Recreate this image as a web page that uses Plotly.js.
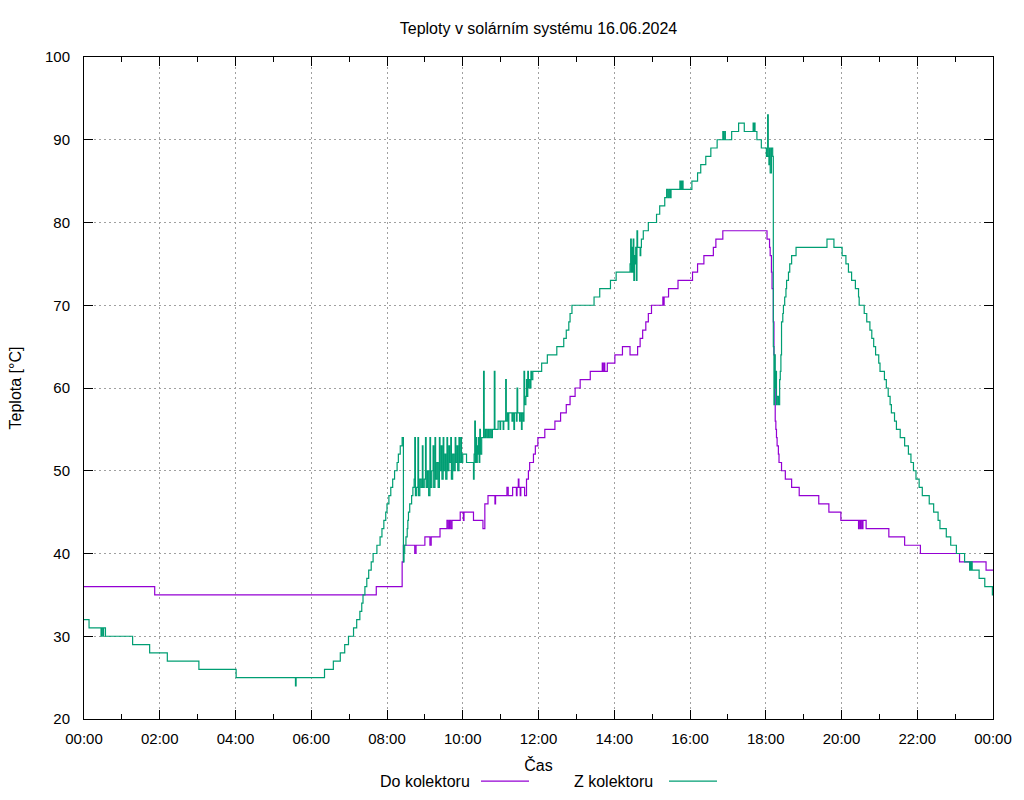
<!DOCTYPE html>
<html lang="cs">
<head>
    <meta charset="UTF-8">
    <title>Teploty v solárním systému 16.06.2024</title>
    <script src="https://cdn.plot.ly/plotly-3.0.1.min.js"></script>
    <style>
        body { margin: 0; padding: 0; background: #fff; }
        #graf { width: 1024px; height: 800px; }
    </style>
</head>
<body>
    <div id="graf"></div>
    <script>
        // Den měření
        const den = '2024-06-16';
        const dalsiDen = '2024-06-17';

        // Do kolektoru (časy změn, hodnoty °C)
        const doCasy = ['00:00','01:52','07:43','08:24','08:26','08:44','08:46','09:00','09:08','09:10',
            '09:24','09:35','09:37','09:39','09:41','09:43','09:56','10:01','10:02','10:17',
            '10:32','10:35','10:40','10:51','10:52','11:10','11:12','11:19','11:25','11:26',
            '11:28','11:29','11:31','11:32','11:38','11:41','11:44','11:46','11:52','11:55',
            '11:59','12:10','12:26','12:35','12:44','12:50','12:58','13:06','13:22','13:41',
            '13:42','13:44','13:45','13:49','14:01','14:13','14:25','14:37','14:41','14:45',
            '14:50','14:54','14:59','15:17','15:18','15:19','15:26','15:41','16:04','16:12',
            '16:22','16:37','16:41','16:52','18:02','18:06','18:07','18:09','18:10','18:12',
            '18:13','18:14','18:15','18:16','18:17','18:18','18:20','18:21','18:25','18:31',
            '18:41','18:53','19:24','19:40','19:59','20:27','20:28','20:30','20:31','20:33',
            '20:34','20:39','21:15','21:40','22:05','23:07','23:49','24:00'];
        const doTeploty = [36,35,36,39,41,40,41,42,41,42,
            43,44,43,44,43,44,45,44,45,44,
            43,46,47,46,47,48,47,48,47,48,
            49,48,47,48,47,49,50,51,52,53,
            54,55,56,57,58,59,60,61,62,63,
            62,63,62,63,64,65,64,65,66,67,
            68,69,70,71,70,71,72,73,74,75,
            76,77,78,79,78,77,76,74,72,68,
            64,61,56,55,54,53,52,51,50,49,
            48,47,46,45,44,43,44,43,44,43,
            44,43,42,41,40,39,38,38];

        // Z kolektoru
        const zCasy = ['00:00','00:08','00:27','00:28','00:30','00:31','00:34','01:17','01:44','02:12',
            '03:02','04:01','05:35','05:36','06:21','06:35','06:46','06:53','06:59','07:07',
            '07:12','07:17','07:20','07:22','07:25','07:28','07:31','07:35','07:38','07:44',
            '07:49','07:52','07:55','07:58','08:00','08:03','08:06','08:09','08:12','08:16',
            '08:18','08:21','08:24','08:26','08:27','08:28','08:30','08:32','08:33','08:34',
            '08:36','08:39','08:41','08:43','08:44','08:45','08:47','08:49','08:50','08:52',
            '08:54','08:56','08:57','08:59','09:01','09:02','09:04','09:06','09:08','09:09',
            '09:11','09:13','09:14','09:16','09:17','09:19','09:21','09:23','09:24','09:26',
            '09:27','09:29','09:30','09:32','09:33','09:35','09:36','09:38','09:39','09:41',
            '09:42','09:44','09:46','09:48','09:49','09:51','09:52','09:54','09:55','09:57',
            '09:58','10:00','10:06','10:17','10:18','10:19','10:20','10:21','10:22','10:23',
            '10:24','10:25','10:26','10:27','10:28','10:30','10:33','10:34','10:36','10:38',
            '10:40','10:41','10:43','10:45','10:47','10:50','10:51','10:56','10:59','11:00',
            '11:04','11:05','11:08','11:09','11:11','11:12','11:13','11:18','11:19','11:21',
            '11:22','11:25','11:26','11:27','11:30','11:31','11:33','11:34','11:36','11:37',
            '11:38','11:40','11:41','11:42','11:43','11:44','11:45','11:47','11:48','11:49',
            '11:51','12:05','12:14','12:29','12:40','12:44','12:48','12:50','12:53','13:28',
            '13:37','13:54','14:03','14:25','14:26','14:27','14:28','14:29','14:30','14:31',
            '14:32','14:33','14:34','14:35','14:36','14:37','14:41','14:42','14:43','14:46',
            '14:54','15:07','15:12','15:20','15:23','15:25','15:27','15:29','15:30','15:44',
            '15:45','15:46','15:47','15:48','15:49','16:03','16:12','16:17','16:25','16:33',
            '16:43','16:52','16:53','16:55','16:56','17:06','17:17','17:26','17:40','17:41',
            '17:42','17:43','17:46','17:53','18:01','18:03','18:04','18:05','18:06','18:07',
            '18:09','18:11','18:12','18:13','18:14','18:15','18:16','18:17','18:18','18:20',
            '18:22','18:23','18:24','18:25','18:27','18:28','18:30','18:32','18:33','18:36',
            '18:38','18:41','18:48','19:37','19:48','20:01','20:07','20:11','20:16','20:22',
            '20:27','20:28','20:36','20:40','20:45','20:48','20:51','20:54','20:59','21:01',
            '21:08','21:11','21:14','21:17','21:19','21:24','21:27','21:33','21:40','21:46',
            '21:50','21:54','21:58','22:03','22:08','22:19','22:26','22:33','22:36','22:46',
            '22:53','23:02','23:15','23:23','23:24','23:25','23:26','23:27','23:38','23:47',
            '23:59','24:00'];
        const zTeploty = [32,31,30,31,30,31,30,29,28,27,
            26,25,24,25,26,27,28,29,30,31,
            32,33,34,35,36,37,38,39,40,41,
            42,43,44,45,46,47,48,49,50,51,
            52,53,54,39,40,41,42,43,44,45,
            46,47,48,49,54,47,48,54,47,49,
            48,53,48,49,54,48,50,47,54,48,
            50,53,48,54,49,51,48,54,50,53,
            49,54,50,52,49,54,50,53,51,54,
            49,52,50,54,51,53,50,54,51,54,
            51,52,51,49,52,56,51,54,51,53,
            52,54,51,55,52,54,62,54,55,54,
            55,54,55,54,55,62,55,56,55,56,
            55,56,61,56,57,55,57,56,57,55,
            57,56,60,57,56,57,55,57,56,62,
            58,59,61,59,62,60,61,60,62,61,
            62,63,64,65,66,67,68,69,70,71,
            72,73,74,75,78,74,77,74,78,73,
            76,75,77,73,79,77,76,77,78,79,
            80,81,82,83,84,83,84,83,84,85,
            84,85,84,85,84,85,86,87,88,89,
            90,91,90,91,90,91,92,91,92,91,
            92,91,90,89,88,93,88,87,89,86,
            89,88,65,58,64,60,62,58,59,58,
            61,62,64,68,69,70,71,72,73,74,
            75,76,77,78,77,76,75,74,73,72,
            71,70,69,68,67,66,65,64,63,62,
            61,60,59,58,57,56,55,54,53,52,
            51,50,49,48,47,46,45,44,43,42,
            41,40,39,38,39,38,39,38,37,36,
            35,35];

        // "HH:MM" -> datum pro osu x (24:00 = půlnoc dalšího dne)
        function naDatum(hm) {
            const [h, m] = hm.split(':').map(Number);
            const min = h * 60 + m;
            const d = min >= 1440 ? dalsiDen : den;
            const zbytek = min % 1440;
            const pad = n => String(n).padStart(2, '0');
            return d + ' ' + pad(Math.floor(zbytek / 60)) + ':' + pad(zbytek % 60);
        }

        const fialova = '#9400d3';
        const zelena = '#009e73';

        const data = [
            {
                x: doCasy.map(naDatum),
                y: doTeploty,
                name: 'Do kolektoru',
                type: 'scatter',
                mode: 'lines',
                line: { color: fialova, width: 1.2, shape: 'hv' }
            },
            {
                x: zCasy.map(naDatum),
                y: zTeploty,
                name: 'Z kolektoru',
                type: 'scatter',
                mode: 'lines',
                line: { color: zelena, width: 1.2, shape: 'hv' }
            }
        ];

        const mrizka = '#a0a0a0';
        const legY = -0.0937;

        const layout = {
            width: 1024,
            height: 800,
            margin: { l: 84, r: 31, t: 57, b: 81 },
            paper_bgcolor: '#fff',
            plot_bgcolor: '#fff',
            font: { family: 'Liberation Sans, Arial, sans-serif', size: 15, color: '#000' },
            showlegend: false,
            title: {
                text: 'Teploty v solárním systému 16.06.2024',
                font: { size: 16 },
                xref: 'paper', x: 0.5, xanchor: 'center',
                yref: 'container', y: 1 - 28 / 800, yanchor: 'middle'
            },
            xaxis: {
                type: 'date',
                range: [naDatum('00:00'), naDatum('24:00')],
                tick0: naDatum('00:00'),
                dtick: 7200000,
                tickformat: '%H:%M',
                ticks: 'inside',
                ticklen: 9,
                tickcolor: '#000',
                ticklabelstandoff: 6,
                showline: true,
                linecolor: '#000',
                linewidth: 1,
                mirror: 'allticks',
                showgrid: true,
                gridcolor: mrizka,
                griddash: '2px,3px',
                zeroline: false,
                minor: { dtick: 3600000, ticks: 'inside', ticklen: 5, tickcolor: '#000', showgrid: false },
                title: { text: 'Čas', standoff: 13, font: { size: 16 } }
            },
            yaxis: {
                range: [20, 100],
                dtick: 10,
                ticks: 'inside',
                ticklen: 9,
                tickcolor: '#000',
                ticklabelstandoff: 10,
                showline: true,
                linecolor: '#000',
                linewidth: 1,
                mirror: 'allticks',
                showgrid: true,
                gridcolor: mrizka,
                griddash: '2px,3px',
                zeroline: false,
                title: { text: 'Teplota [°C]', standoff: 19, font: { size: 16 } }
            },
            annotations: [
                { text: 'Do kolektoru', xref: 'paper', yref: 'paper', x: (472 - 84) / 909, y: legY,
                  xanchor: 'right', yanchor: 'middle', showarrow: false, font: { size: 16 } },
                { text: 'Z kolektoru', xref: 'paper', yref: 'paper', x: (655 - 84) / 909, y: legY,
                  xanchor: 'right', yanchor: 'middle', showarrow: false, font: { size: 16 } }
            ],
            shapes: [
                { type: 'line', xref: 'paper', yref: 'paper', x0: (481 - 84) / 909, x1: (529 - 84) / 909,
                  y0: legY, y1: legY, line: { color: fialova, width: 1.2 } },
                { type: 'line', xref: 'paper', yref: 'paper', x0: (669 - 84) / 909, x1: (717 - 84) / 909,
                  y0: legY, y1: legY, line: { color: zelena, width: 1.2 } }
            ]
        };

        Plotly.newPlot('graf', data, layout, { displayModeBar: false, staticPlot: true });
    </script>
</body>
</html>
